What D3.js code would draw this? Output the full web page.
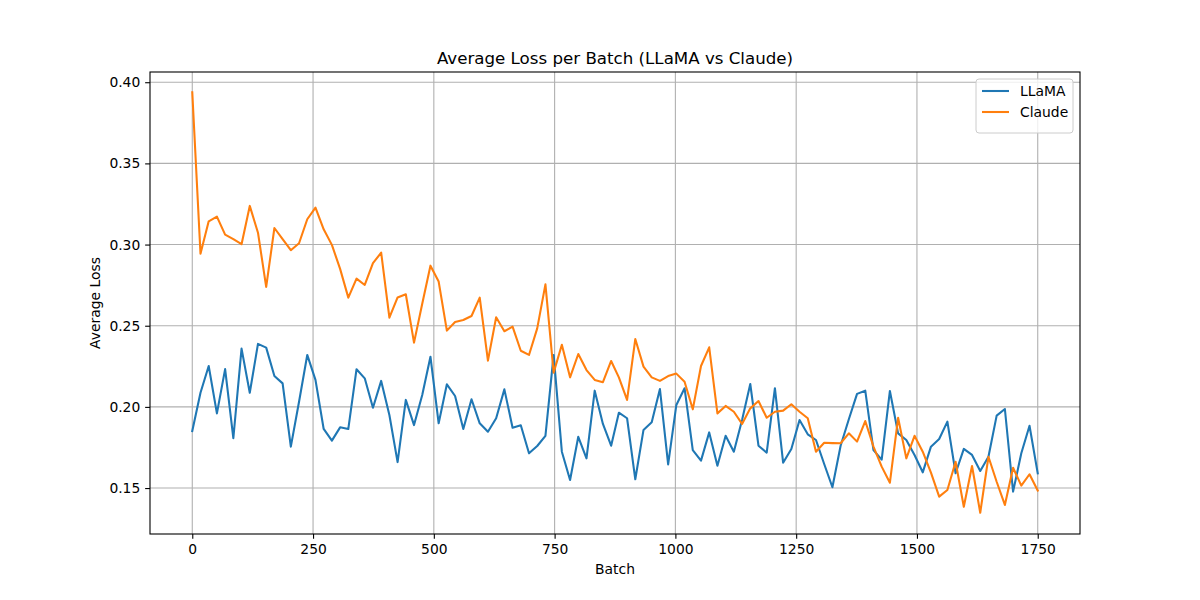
<!DOCTYPE html>
<html>
<head>
<meta charset="utf-8">
<script src="https://cdn.jsdelivr.net/npm/d3@7"></script>
<style>
  body { margin: 0; background: #fff; }
  text { font-family: "DejaVu Sans", sans-serif; fill: #000; }
</style>
</head>
<body>
<div id="chart"></div>
<script>
// batch index of every logged point (104 points from 0 to 1750)
const batches = d3.range(104).map(i => Math.round(i * 1750 / 103));

const llamaLoss = [
  0.1851, 0.2087, 0.2252, 0.1960, 0.2233, 0.1807, 0.2359, 0.2087, 0.2388, 0.2365,
  0.2190, 0.2145, 0.1755, 0.2032, 0.2320, 0.2166, 0.1864, 0.1792, 0.1874, 0.1864,
  0.2232, 0.2176, 0.1995, 0.2160, 0.1950, 0.1660, 0.2043, 0.1888, 0.2073, 0.2309,
  0.1899, 0.2139, 0.2067, 0.1864, 0.2047, 0.1899, 0.1847, 0.1930, 0.2108, 0.1872,
  0.1887, 0.1714, 0.1759, 0.1822, 0.2320, 0.1724, 0.1550, 0.1816, 0.1683, 0.2100,
  0.1895, 0.1761, 0.1964, 0.1930, 0.1554, 0.1858, 0.1905, 0.2110, 0.1646, 0.2012,
  0.2115, 0.1734, 0.1669, 0.1843, 0.1638, 0.1822, 0.1724, 0.1919, 0.2141, 0.1761,
  0.1718, 0.2115, 0.1656, 0.1741, 0.1919, 0.1831, 0.1796, 0.1648, 0.1505, 0.1761,
  0.1924, 0.2080, 0.2100, 0.1734, 0.1675, 0.2098, 0.1837, 0.1796, 0.1704, 0.1597,
  0.1755, 0.1802, 0.1909, 0.1591, 0.1741, 0.1704, 0.1605, 0.1693, 0.1946, 0.1987,
  0.1478, 0.1714, 0.1884, 0.1591
];

const claudeLoss = [
  0.3938, 0.2944, 0.3143, 0.3172, 0.3061, 0.3033, 0.3002, 0.3238, 0.3073, 0.2739,
  0.3102, 0.3033, 0.2965, 0.3008, 0.3156, 0.3227, 0.3094, 0.2998, 0.2850, 0.2673,
  0.2790, 0.2751, 0.2885, 0.2950, 0.2550, 0.2674, 0.2694, 0.2396, 0.2635, 0.2870,
  0.2772, 0.2470, 0.2523, 0.2535, 0.2560, 0.2673, 0.2285, 0.2552, 0.2466, 0.2494,
  0.2346, 0.2320, 0.2484, 0.2755, 0.2211, 0.2383, 0.2182, 0.2326, 0.2227, 0.2166,
  0.2152, 0.2283, 0.2182, 0.2043, 0.2418, 0.2248, 0.2182, 0.2160, 0.2190, 0.2205,
  0.2155, 0.1985, 0.2252, 0.2367, 0.1960, 0.2006, 0.1970, 0.1895, 0.1991, 0.2036,
  0.1933, 0.1970, 0.1977, 0.2016, 0.1970, 0.1930, 0.1724, 0.1779, 0.1777, 0.1776,
  0.1837, 0.1786, 0.1913, 0.1755, 0.1632, 0.1533, 0.1933, 0.1683, 0.1822, 0.1724,
  0.1595, 0.1447, 0.1488, 0.1662, 0.1385, 0.1636, 0.1348, 0.1693, 0.1539, 0.1396,
  0.1625, 0.1515, 0.1585, 0.1484
];

const xTicks = [0, 250, 500, 750, 1000, 1250, 1500, 1750];
const yTicks = [0.15, 0.20, 0.25, 0.30, 0.35, 0.40];
const seriesNames = ["LLaMA", "Claude"];
const seriesColors = ["#1f77b4", "#ff7f0e"];

const width = 1200, height = 600;
const margin = {top: 72, right: 120, bottom: 66, left: 150};
const innerW = width - margin.left - margin.right;
const innerH = height - margin.top - margin.bottom;

const svg = d3.select("#chart").append("svg")
    .attr("width", width)
    .attr("height", height);

const g = svg.append("g")
    .attr("transform", `translate(${margin.left},${margin.top})`);

const x = d3.scaleLinear().domain([-87.5, 1837.5]).range([0, innerW]);
const y = d3.scaleLinear().domain([0.1217, 0.4063]).range([innerH, 0]);

// grid
g.append("g").selectAll("line")
    .data(xTicks).enter().append("line")
    .attr("x1", d => x(d)).attr("x2", d => x(d))
    .attr("y1", 0).attr("y2", innerH)
    .attr("stroke", "#b0b0b0").attr("stroke-width", 1.1);

g.append("g").selectAll("line")
    .data(yTicks).enter().append("line")
    .attr("x1", 0).attr("x2", innerW)
    .attr("y1", d => y(d)).attr("y2", d => y(d))
    .attr("stroke", "#b0b0b0").attr("stroke-width", 1.1);

// lines
const line = d3.line()
    .x((d, i) => x(batches[i]))
    .y(d => y(d));

[llamaLoss, claudeLoss].forEach((vals, k) => {
    g.append("path")
        .datum(vals)
        .attr("fill", "none")
        .attr("stroke", seriesColors[k])
        .attr("stroke-width", 2.08)
        .attr("stroke-linejoin", "round")
        .attr("stroke-linecap", "square")
        .attr("d", line);
});

// axes
const xAxis = g.append("g")
    .attr("transform", `translate(0,${innerH})`)
    .call(d3.axisBottom(x).tickValues(xTicks).tickSize(4.86).tickPadding(4.86).tickFormat(d3.format("d")));
const yAxis = g.append("g")
    .call(d3.axisLeft(y).tickValues(yTicks).tickSize(4.86).tickPadding(4.86).tickFormat(d3.format(".2f")));

[xAxis, yAxis].forEach(a => {
    a.select(".domain").remove();
    a.selectAll(".tick line").attr("stroke", "#000").attr("stroke-width", 1.1);
    a.selectAll(".tick text").style("font-size", "13.89px").style("font-family", "DejaVu Sans").attr("fill", "#000");
});

// frame
g.append("rect")
    .attr("width", innerW).attr("height", innerH)
    .attr("fill", "none").attr("stroke", "#000").attr("stroke-width", 1.1);

// title and labels
svg.append("text")
    .attr("x", margin.left + innerW / 2).attr("y", 64)
    .attr("text-anchor", "middle")
    .style("font-size", "16.67px")
    .text("Average Loss per Batch (LLaMA vs Claude)");

svg.append("text")
    .attr("x", margin.left + innerW / 2).attr("y", 574)
    .attr("text-anchor", "middle")
    .style("font-size", "13.89px")
    .text("Batch");

svg.append("text")
    .attr("transform", `translate(100,${margin.top + innerH / 2}) rotate(-90)`)
    .attr("text-anchor", "middle")
    .style("font-size", "13.89px")
    .text("Average Loss");

// legend
const legend = g.append("g").attr("transform", `translate(${innerW - 104},7)`);
legend.append("rect")
    .attr("width", 97).attr("height", 54).attr("rx", 3)
    .attr("fill", "#fff").attr("fill-opacity", 0.8)
    .attr("stroke", "#ccc").attr("stroke-width", 1);
seriesNames.forEach((name, k) => {
    const row = legend.append("g").attr("transform", `translate(0,${12 + k * 21})`);
    row.append("line")
        .attr("x1", 6).attr("x2", 33)
        .attr("stroke", seriesColors[k]).attr("stroke-width", 2.08);
    row.append("text")
        .attr("x", 44).attr("dy", "0.35em")
        .style("font-size", "13.89px")
        .text(name);
});
</script>
</body>
</html>
